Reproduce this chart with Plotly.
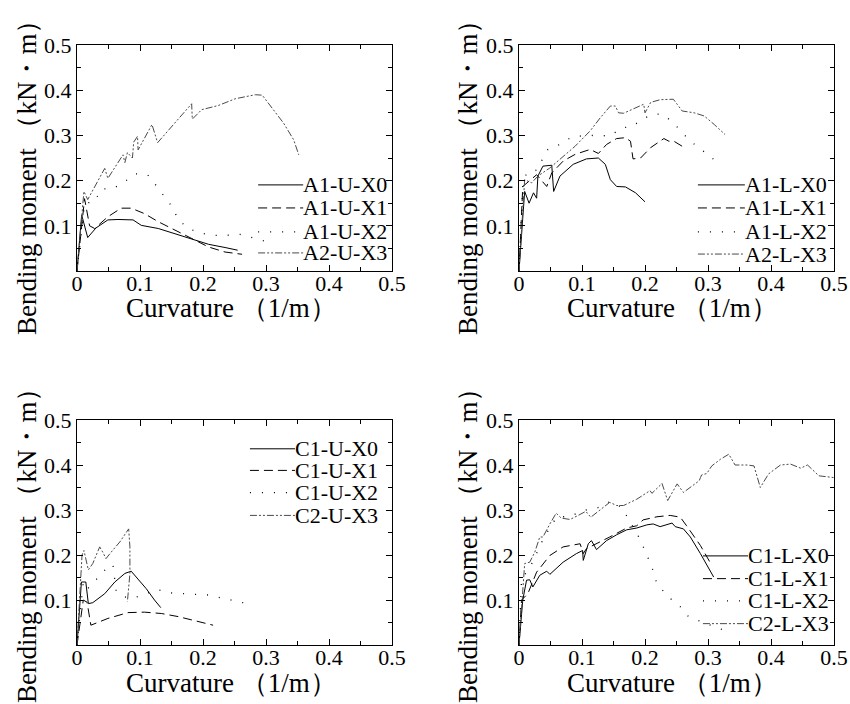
import plotly.graph_objects as go

# ---------------- data (curvature 1/m, bending moment kN·m) ----------------
# Panel 1: A-U
a1_u_x0_x = [0, 0.0074, 0.017, 0.03, 0.049, 0.065, 0.089, 0.102, 0.129, 0.155, 0.182, 0.209, 0.235, 0.255]
a1_u_x0_y = [0, 0.124, 0.074, 0.095, 0.113, 0.114, 0.113, 0.101, 0.094, 0.083, 0.070, 0.059, 0.052, 0.046]
a1_u_x1_x = [0, 0.012, 0.02, 0.028, 0.049, 0.07, 0.086, 0.107, 0.129, 0.155, 0.182, 0.209, 0.235, 0.262]
a1_u_x1_y = [0, 0.160, 0.100, 0.094, 0.120, 0.139, 0.139, 0.127, 0.109, 0.090, 0.072, 0.053, 0.042, 0.037]
a1_u_x2_x = [0, 0.012, 0.028, 0.038, 0.058, 0.076, 0.093, 0.112, 0.123, 0.151, 0.161, 0.177, 0.195, 0.216, 0.238, 0.259, 0.278, 0.298]
a1_u_x2_y = [0, 0.150, 0.153, 0.181, 0.183, 0.198, 0.215, 0.213, 0.194, 0.142, 0.113, 0.094, 0.084, 0.079, 0.079, 0.081, 0.074, 0.066]
a2_u_x3_x = [0, 0.011, 0.017, 0.044, 0.049, 0.073, 0.076, 0.080, 0.088, 0.090, 0.096, 0.097, 0.119, 0.128, 0.182, 0.183, 0.198, 0.224, 0.251, 0.283, 0.294, 0.312, 0.328, 0.344, 0.352]
a2_u_x3_y = [0, 0.176, 0.158, 0.227, 0.205, 0.257, 0.240, 0.262, 0.250, 0.285, 0.298, 0.268, 0.324, 0.284, 0.370, 0.336, 0.357, 0.366, 0.381, 0.390, 0.389, 0.356, 0.327, 0.290, 0.257]

# Panel 2: A-L
a1_l_x0_x = [0, 0.009, 0.016, 0.023, 0.028, 0.030, 0.038, 0.052, 0.055, 0.065, 0.086, 0.107, 0.126, 0.137, 0.145, 0.155, 0.169, 0.185, 0.200]
a1_l_x0_y = [0, 0.176, 0.150, 0.173, 0.161, 0.210, 0.232, 0.234, 0.176, 0.210, 0.236, 0.248, 0.250, 0.236, 0.202, 0.187, 0.186, 0.173, 0.153]
a1_l_x1_x = [0, 0.006, 0.028, 0.044, 0.052, 0.070, 0.089, 0.113, 0.126, 0.139, 0.155, 0.169, 0.177, 0.181, 0.193, 0.209, 0.230, 0.238, 0.246, 0.259]
a1_l_x1_y = [0, 0.187, 0.213, 0.187, 0.217, 0.243, 0.258, 0.269, 0.260, 0.280, 0.293, 0.295, 0.287, 0.248, 0.250, 0.273, 0.293, 0.287, 0.287, 0.276]
a1_l_x2_x = [0, 0.006, 0.012, 0.029, 0.037, 0.046, 0.065, 0.084, 0.110, 0.145, 0.163, 0.179, 0.197, 0.214, 0.228, 0.245, 0.259, 0.274, 0.291, 0.309]
a1_l_x2_y = [0, 0.190, 0.217, 0.224, 0.247, 0.269, 0.280, 0.297, 0.300, 0.299, 0.317, 0.319, 0.337, 0.347, 0.347, 0.328, 0.306, 0.285, 0.267, 0.247]
a2_l_x3_x = [0, 0.009, 0.020, 0.030, 0.049, 0.065, 0.089, 0.113, 0.129, 0.145, 0.153, 0.158, 0.166, 0.182, 0.198, 0.200, 0.209, 0.224, 0.245, 0.251, 0.259, 0.278, 0.294, 0.310, 0.327]
a2_l_x3_y = [0, 0.202, 0.195, 0.210, 0.228, 0.247, 0.276, 0.310, 0.339, 0.365, 0.365, 0.350, 0.349, 0.359, 0.369, 0.350, 0.373, 0.379, 0.380, 0.369, 0.354, 0.350, 0.343, 0.324, 0.302]

# Panel 3: C-U
c1_u_x0_x = [0, 0.007, 0.014, 0.018, 0.025, 0.044, 0.060, 0.076, 0.086, 0.097, 0.110, 0.123, 0.133]
c1_u_x0_y = [0, 0.140, 0.140, 0.092, 0.094, 0.114, 0.140, 0.159, 0.164, 0.147, 0.125, 0.100, 0.083]
c1_u_x1_x = [0, 0.010, 0.016, 0.022, 0.049, 0.081, 0.107, 0.134, 0.161, 0.187, 0.216]
c1_u_x1_y = [0, 0.100, 0.095, 0.044, 0.059, 0.072, 0.073, 0.070, 0.063, 0.054, 0.044]
c1_u_x2_x = [0, 0.010, 0.017, 0.030, 0.044, 0.057, 0.062, 0.073, 0.091, 0.109, 0.128, 0.146, 0.167, 0.187, 0.209, 0.228, 0.248, 0.270]
c1_u_x2_y = [0, 0.140, 0.125, 0.145, 0.166, 0.179, 0.122, 0.107, 0.105, 0.114, 0.123, 0.116, 0.114, 0.113, 0.111, 0.105, 0.098, 0.092]
c2_u_x3_x = [0, 0.008, 0.011, 0.018, 0.025, 0.036, 0.041, 0.046, 0.054, 0.068, 0.082, 0.084, 0.084, 0.081, 0.080]
c2_u_x3_y = [0, 0.200, 0.210, 0.167, 0.181, 0.218, 0.206, 0.192, 0.206, 0.229, 0.258, 0.218, 0.159, 0.114, 0.096]

# Panel 4: C-L
c1_l_x0_x = [0, 0.006, 0.012, 0.017, 0.022, 0.033, 0.044, 0.049, 0.070, 0.091, 0.101, 0.102, 0.110, 0.115, 0.123, 0.139, 0.155, 0.171, 0.187, 0.203, 0.213, 0.224, 0.243, 0.248, 0.261, 0.272, 0.288, 0.309]
c1_l_x0_y = [0, 0.100, 0.144, 0.145, 0.129, 0.155, 0.164, 0.157, 0.184, 0.203, 0.210, 0.188, 0.225, 0.232, 0.212, 0.232, 0.245, 0.256, 0.260, 0.267, 0.269, 0.263, 0.271, 0.263, 0.258, 0.240, 0.203, 0.151]
c1_l_x1_x = [0, 0.004, 0.014, 0.028, 0.049, 0.070, 0.097, 0.102, 0.107, 0.123, 0.144, 0.171, 0.187, 0.197, 0.219, 0.240, 0.256, 0.266, 0.288, 0.306]
c1_l_x1_y = [0, 0.100, 0.114, 0.162, 0.199, 0.218, 0.225, 0.203, 0.214, 0.225, 0.240, 0.260, 0.265, 0.278, 0.285, 0.288, 0.284, 0.265, 0.221, 0.177]
c1_l_x2_x = [0, 0.004, 0.020, 0.040, 0.060, 0.080, 0.102, 0.125, 0.145, 0.163, 0.175, 0.189, 0.200, 0.211, 0.219, 0.237, 0.256, 0.269, 0.304, 0.325]
c1_l_x2_y = [0, 0.145, 0.180, 0.240, 0.285, 0.285, 0.299, 0.305, 0.319, 0.306, 0.277, 0.243, 0.210, 0.173, 0.136, 0.107, 0.085, 0.063, 0.044, 0.033]
c2_l_x3_x = [0, 0.009, 0.017, 0.025, 0.033, 0.038, 0.049, 0.059, 0.067, 0.081, 0.094, 0.106, 0.114, 0.128, 0.144, 0.155, 0.166, 0.187, 0.208, 0.211, 0.227, 0.236, 0.245, 0.251, 0.261, 0.272, 0.286, 0.288, 0.290, 0.298, 0.306, 0.320, 0.333, 0.343, 0.362, 0.373, 0.383, 0.396, 0.415, 0.431, 0.447, 0.458, 0.476, 0.500]
c2_l_x3_y = [0, 0.181, 0.184, 0.206, 0.240, 0.240, 0.269, 0.293, 0.282, 0.279, 0.288, 0.297, 0.284, 0.299, 0.317, 0.310, 0.310, 0.324, 0.343, 0.337, 0.359, 0.321, 0.343, 0.358, 0.339, 0.350, 0.365, 0.372, 0.378, 0.381, 0.398, 0.413, 0.424, 0.400, 0.400, 0.398, 0.350, 0.380, 0.400, 0.402, 0.393, 0.400, 0.376, 0.372]

panels = [
    (["A1-U-X0", "A1-U-X1", "A1-U-X2", "A2-U-X3"],
     [(a1_u_x0_x, a1_u_x0_y), (a1_u_x1_x, a1_u_x1_y), (a1_u_x2_x, a1_u_x2_y), (a2_u_x3_x, a2_u_x3_y)]),
    (["A1-L-X0", "A1-L-X1", "A1-L-X2", "A2-L-X3"],
     [(a1_l_x0_x, a1_l_x0_y), (a1_l_x1_x, a1_l_x1_y), (a1_l_x2_x, a1_l_x2_y), (a2_l_x3_x, a2_l_x3_y)]),
    (["C1-U-X0", "C1-U-X1", "C1-U-X2", "C2-U-X3"],
     [(c1_u_x0_x, c1_u_x0_y), (c1_u_x1_x, c1_u_x1_y), (c1_u_x2_x, c1_u_x2_y), (c2_u_x3_x, c2_u_x3_y)]),
    (["C1-L-X0", "C1-L-X1", "C1-L-X2", "C2-L-X3"],
     [(c1_l_x0_x, c1_l_x0_y), (c1_l_x1_x, c1_l_x1_y), (c1_l_x2_x, c1_l_x2_y), (c2_l_x3_x, c2_l_x3_y)]),
]

major_ticks = [0, 0.1, 0.2, 0.3, 0.4, 0.5]
minor_ticks = [0.05, 0.15, 0.25, 0.35, 0.45]
x_ticktext = ["0", "0.1", "0.2", "0.3", "0.4", "0.5"]
y_ticktext = ["", "0.1", "0.2", "0.3", "0.4", "0.5"]
x_title = "Curvature （1/m）"
y_title = "Bending moment （kN・m）"

# ---------------- styling ----------------
SERIF = "Liberation Serif, Times New Roman, serif"
styles = [
    dict(color="black", width=1, dash="solid"),
    dict(color="black", width=1, dash="9px,5px"),
    dict(color="black", width=1.3, dash="1px,11px"),
    dict(color="#4a4a4a", width=1, dash="7px,2px,2px,2px,2px,2px"),
]

W, H = 850, 704
x_domains = [(77 / W, 392 / W), (519 / W, 834 / W)]
y_domains = [((H - 271) / H, (H - 45) / H), ((H - 645) / H, (H - 420) / H)]
# axis-title centres in pixels: x-title (cx, cy) and y-title (cx, cy) per panel
xtitle_px = [(231, 308), (672, 308), (231, 683), (672, 683)]
ytitle_px = [(27, 171), (468, 171), (27, 539), (468, 539)]
# legend placement inside each panel, in axis-domain fractions: (line start, text start, row ys)
legend_geo = [
    (0.575, 0.718, [0.381, 0.279, 0.173, 0.080]),
    (0.568, 0.717, [0.381, 0.279, 0.173, 0.075]),
    (0.549, 0.692, [0.872, 0.776, 0.677, 0.576]),
    (0.584, 0.727, [0.396, 0.295, 0.196, 0.095]),
]

fig = go.Figure()
layout = dict(width=W, height=H, margin=dict(l=0, r=0, t=0, b=0, autoexpand=False),
              paper_bgcolor="white", plot_bgcolor="white",
              font=dict(family=SERIF, color="black", size=20), showlegend=False)
shapes, annotations = [], []

for p, (names, series) in enumerate(panels):
    row, col = divmod(p, 2)
    sfx = "" if p == 0 else str(p + 1)
    for name, (xs, ys), st in zip(names, series, styles):
        fig.add_trace(go.Scatter(x=xs, y=ys, mode="lines", name=name, line=st,
                                 xaxis="x" + sfx, yaxis="y" + sfx,
                                 hoverinfo="skip", showlegend=False))
    axis_common = dict(range=[0, 0.5], showgrid=False, zeroline=False, automargin=False,
                       showline=True, linecolor="black", linewidth=1, mirror="ticks",
                       ticks="inside", ticklen=6, tickcolor="black", tickwidth=1,
                       tickmode="array", tickvals=major_ticks,
                       minor=dict(tickmode="array", tickvals=minor_ticks, ticks="inside",
                                  ticklen=4, tickcolor="black", tickwidth=1, showgrid=False),
                       tickfont=dict(family=SERIF, size=22, color="black"))
    layout["xaxis" + sfx] = dict(axis_common, domain=list(x_domains[col]),
                                 anchor="y" + sfx, ticktext=x_ticktext, ticklabelstandoff=-7)
    layout["yaxis" + sfx] = dict(axis_common, domain=list(y_domains[row]),
                                 anchor="x" + sfx, ticktext=y_ticktext)
    # axis titles
    cx, cy = xtitle_px[p]
    annotations.append(dict(text=x_title, xref="paper", yref="paper", x=cx / W, y=1 - cy / H,
                            xanchor="center", yanchor="middle", showarrow=False,
                            font=dict(family=SERIF, size=27, color="black")))
    cx, cy = ytitle_px[p]
    annotations.append(dict(text=y_title, xref="paper", yref="paper", x=cx / W, y=1 - cy / H,
                            xanchor="center", yanchor="middle", showarrow=False, textangle=-90,
                            font=dict(family=SERIF, size=27, color="black")))
    # manual legend (line sample + label) placed by axis-domain fractions
    x0, xt, rows = legend_geo[p]
    for name, st, ry in zip(names, styles, rows):
        shapes.append(dict(type="line", xref="x%s domain" % sfx, yref="y%s domain" % sfx,
                           x0=x0, x1=xt, y0=ry, y1=ry, line=st))
        annotations.append(dict(text=name, xref="x%s domain" % sfx, yref="y%s domain" % sfx,
                                x=xt, y=ry, xanchor="left", yanchor="middle", showarrow=False,
                                xshift=-2, font=dict(family=SERIF, size=22, color="black")))

layout["shapes"] = shapes
layout["annotations"] = annotations
fig.update_layout(**layout)
fig.write_html("out.html", config={"displayModeBar": False},
               post_script="document.body.style.margin='0';")
